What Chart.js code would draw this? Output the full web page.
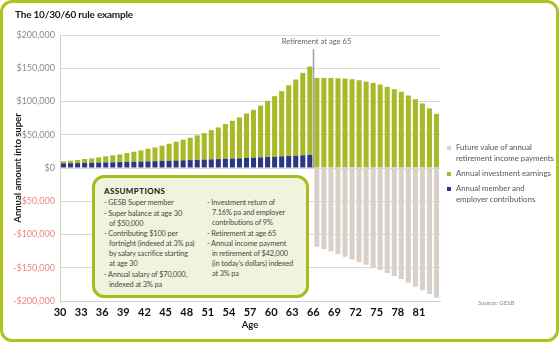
<!DOCTYPE html>
<html>
<head>
<meta charset="utf-8">
<title>The 10/30/60 rule example</title>
<script src="https://cdn.jsdelivr.net/npm/chart.js@4.4.0/dist/chart.umd.min.js"></script>
<style>
    html, body { margin: 0; padding: 0; background: #fff; }
    body { width: 560px; height: 343px; position: relative; overflow: hidden; font-family: Lato, "Open Sans", sans-serif; }
    #frame {
        position: absolute; left: 0; top: 0; width: 553px; height: 336px;
        border: 3px solid #b1c11f; border-radius: 12px;
    }
    #chart { position: absolute; left: 0; top: 0; }
    .title { position: absolute; left: 15px; top: 8px; font-size: 10px; letter-spacing: -0.2px; font-weight: bold; color: #1a1a1a; }
    .assumptions {
        position: absolute; left: 92px; top: 175px; width: 211px; height: 117px;
        border: 3px solid #a9bb1e; border-radius: 12px; background: #f1f4dc;
        font-size: 7.4px; letter-spacing: -0.15px; color: #4a4a4a; line-height: 10px; white-space: nowrap;
    }
    .assumptions h4 { position: absolute; left: 9px; top: 8px; margin: 0; font-size: 8px; letter-spacing: 0.4px; color: #111; }
    .assumptions ul { position: absolute; top: 20px; margin: 0; padding: 0; list-style: none; }
    .assumptions li { padding-left: 5px; text-indent: -5px; margin-bottom: 0.5px; }
    .col1 { left: 9px; }
    .col2 { left: 112px; }
    .legend { position: absolute; left: 447px; top: 142px; font-size: 7.8px; color: #555; line-height: 11px; white-space: nowrap; }
    .legend div { position: relative; padding-left: 9px; margin-bottom: 4px; }
    .legend span { position: absolute; left: 0; top: 4px; width: 4px; height: 4px; }
    .source { position: absolute; left: 478px; top: 299px; font-size: 6.5px; font-style: italic; color: #888; }
</style>
</head>
<body>
<div id="frame"></div>
<canvas id="chart" width="560" height="343"></canvas>
<div class="title">The 10/30/60 rule example</div>
<div class="assumptions">
    <h4>ASSUMPTIONS</h4>
    <ul class="col1">
        <li>- GESB Super member</li>
        <li>- Super balance at age 30<br>of $50,000</li>
        <li>- Contributing $100 per<br>fortnight (indexed at 3% pa)<br>by salary sacrifice starting<br>at age 30</li>
        <li>- Annual salary of $70,000,<br>indexed at 3% pa</li>
    </ul>
    <ul class="col2">
        <li>- Investment return of<br>7.16% pa and employer<br>contributions of 9%</li>
        <li>- Retirement at age 65</li>
        <li>- Annual income payment<br>in retirement of $42,000<br>(in today’s dollars) indexed<br>at 3% pa</li>
    </ul>
</div>
<div class="legend">
    <div><span style="background:#d9d1c9"></span>Future value of annual<br>retirement income payments</div>
    <div><span style="background:#a8b92a"></span>Annual investment earnings</div>
    <div><span style="background:#2c3783"></span>Annual member and<br>employer contributions</div>
</div>
<div class="source">Source: GESB</div>

<script>
// ages 30..83, retirement after 65
const ages = [];
for (let a = 30; a <= 83; a++) ages.push(String(a));

// member + employer contributions (ages 30-65)
const contributions = [
    7000, 7200, 7400, 7600, 7900, 8100, 8400, 8600, 8900, 9100,
    9400, 9700, 10000, 10300, 10600, 10900, 11200, 11600, 11900, 12300,
    12600, 13000, 13400, 13800, 14200, 14600, 15100, 15500, 16000, 16500,
    17000, 17500, 18000, 18500, 19100, 19700
];

// investment earnings: ages 30-65 sit on top of contributions, 66-83 alone
const earnings = [
    3000, 3800, 4600, 5900, 6600, 7900, 9100, 10400, 11600, 13400,
    15100, 16800, 19000, 20700, 22900, 25600, 28300, 30900, 33600, 36700,
    39900, 44000, 47600, 52200, 56800, 61400, 66900, 72000, 78000, 84500,
    91000, 98000, 106500, 114500, 123900, 132800,
    135500, 135500, 135500, 135000, 134500, 133500, 132000, 130000, 128000,
    125500, 122000, 118500, 114500, 109000, 103500, 97000, 89500, 81500
];

// future value of retirement income payments (ages 66-83)
const payments = [
    -118500, -122000, -125500, -129500, -133500, -137500, -141500, -145500, -149500,
    -153500, -158000, -162500, -167000, -172500, -178500, -184000, -189500, -195000
];

const yTicks = [-200000, -150000, -100000, -50000, 0, 50000, 100000, 150000, 200000];

const preCount = contributions.length;
const blueData = ages.map((a, i) => i < preCount ? contributions[i] : null);
const beigeData = ages.map((a, i) => i < preCount ? null : payments[i - preCount]);

function money(v) {
    const s = '$' + Math.abs(v).toLocaleString('en-US');
    return v < 0 ? '-' + s : s;
}

// vertical marker between age 65 and 66
const retirementLine = {
    id: 'retirementLine',
    afterDatasetsDraw(chart) {
        const { ctx, scales: { x, y } } = chart;
        const px = Math.round((x.getPixelForValue(preCount - 1) + x.getPixelForValue(preCount)) / 2) + 0.5;
        ctx.save();
        ctx.strokeStyle = '#a0a0a0';
        ctx.lineWidth = 1.5;
        ctx.beginPath();
        ctx.moveTo(px, 49);
        ctx.lineTo(px, y.getPixelForValue(0));
        ctx.stroke();
        ctx.fillStyle = '#666';
        ctx.font = '7.6px Lato, sans-serif';
        ctx.textAlign = 'center';
        ctx.textBaseline = 'middle';
        ctx.fillText('Retirement at age 65', px + 3, 42);
        ctx.restore();
    }
};

new Chart(document.getElementById('chart'), {
    type: 'bar',
    data: {
        labels: ages,
        datasets: [
            { label: 'Annual member and employer contributions', data: blueData, backgroundColor: '#2c3783' },
            { label: 'Annual investment earnings', data: earnings, backgroundColor: '#a8b92a' },
            { label: 'Future value of annual retirement income payments', data: beigeData, backgroundColor: '#d9d1c9' }
        ]
    },
    options: {
        responsive: false,
        animation: false,
        barPercentage: 0.72,
        categoryPercentage: 1,
        layout: { padding: { left: 8, right: 120, top: 35, bottom: 8 } },
        plugins: {
            legend: { display: false },
            tooltip: { enabled: false }
        },
        scales: {
            x: {
                stacked: true,
                grid: { display: false, drawTicks: false },
                border: { color: '#cfcfcf' },
                afterFit: s => { s.height = 34; },
                ticks: {
                    autoSkip: false,
                    maxRotation: 0,
                    padding: 5,
                    labelOffset: -3.5,
                    color: '#111',
                    font: { family: 'Lato', size: 11, weight: 'bold' },
                    callback: (v, i) => i % 3 === 0 ? ages[i] : ''
                },
                title: {
                    display: true, text: 'Age', color: '#222',
                    font: { family: 'Lato', size: 9.5, weight: 'bold' },
                    padding: { top: 0, bottom: 4 }
                }
            },
            y: {
                stacked: true,
                min: -200000,
                max: 200000,
                afterFit: s => { s.width = 52; },
                afterBuildTicks: s => { s.ticks = yTicks.map(v => ({ value: v })); },
                grid: { color: '#d9d9d9', drawTicks: false },
                border: { color: '#cfcfcf' },
                ticks: {
                    padding: 5,
                    color: c => c.tick.value < 0 ? '#f08585' : '#8c8c8c',
                    font: { family: 'Lato', size: 9 },
                    callback: v => money(v)
                },
                title: {
                    display: true, text: 'Annual amount into super', color: '#1a1a1a',
                    font: { family: 'Lato', size: 9.5, weight: 'bold' },
                    padding: 4
                }
            }
        }
    },
    plugins: [retirementLine]
});
</script>
</body>
</html>
